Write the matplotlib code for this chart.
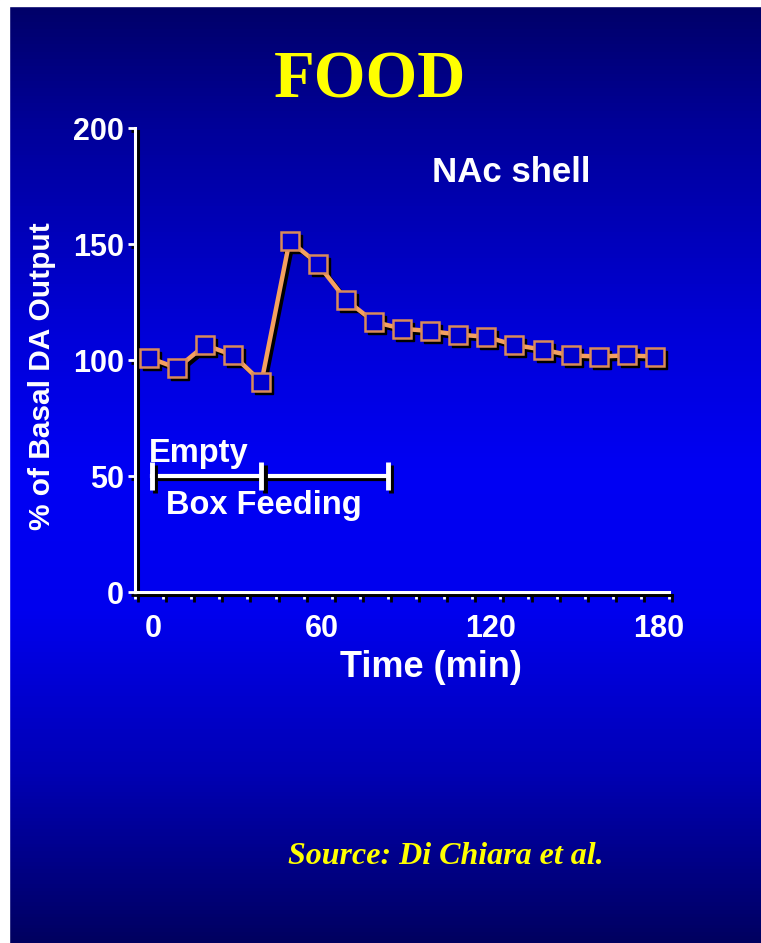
import matplotlib
matplotlib.use("Agg")
import matplotlib.pyplot as plt
import numpy as np
import matplotlib.patheffects as pe
from matplotlib.colors import LinearSegmentedColormap
from matplotlib.patches import Rectangle
from matplotlib import transforms
from matplotlib.ticker import FixedLocator

# ---------------- data ----------------
time_min = [0, 10, 20, 30, 40, 50, 60, 70, 80, 90, 100, 110, 120, 130, 140, 150, 160, 170, 180]
da_output = [101, 96.5, 106.5, 102, 90.5, 151.5, 141.5, 126, 116.5, 113.5, 112.5, 111, 110,
             106.5, 104.5, 102, 101.5, 102, 101.5]
x_tick_values = [0, 60, 120, 180]
x_tick_labels = ["0", "60", "120", "180"]
y_tick_values = [0, 50, 100, 150, 200]
phase_bounds = [1, 40, 85]          # empty box: 1-40 min, feeding: 40-85 min
phase_level = 50

plt.rcParams["font.family"] = ["Liberation Sans", "DejaVu Sans"]
plt.rcParams["font.weight"] = "bold"

fig = plt.figure(figsize=(7.61, 9.43), dpi=100)

# ---------------- background gradient ----------------
bg = fig.add_axes([0, 0, 1, 1], zorder=-10)
cmap = LinearSegmentedColormap.from_list(
    "bg",
    [(0.0, "#000066"), (0.13, "#000098"), (0.35, "#0000d8"), (0.5, "#0000f4"),
     (0.65, "#0000ee"), (0.82, "#0000b4"), (1.0, "#000060")])
grad = np.linspace(0, 1, 256).reshape(-1, 1)
bg.imshow(grad, aspect="auto", cmap=cmap, extent=[0, 1, 0, 1], origin="upper")
bg.add_patch(Rectangle((0, 0), 9 / 761, 1, color="white"))
bg.add_patch(Rectangle((0, 1 - 6 / 943), 1, 6 / 943, color="white"))
bg.set_xlim(0, 1)
bg.set_ylim(0, 1)
bg.axis("off")

# ---------------- main axes ----------------
ax = fig.add_axes([0.1774, 0.3722, 0.7017, 0.4920])
ax.patch.set_alpha(0)
ax.set_xlim(-5, 185)
ax.set_ylim(0, 200)

shadow_pe = [pe.SimpleLineShadow(offset=(2.2, -2.2), shadow_color="black", alpha=1.0), pe.Normal()]

# data line with drop shadow
shadow_tr = transforms.offset_copy(ax.transData, fig=fig, x=3, y=-3, units="dots")
ax.plot(time_min, da_output, color="black", lw=3.2, marker="s", ms=12.5,
        mfc="black", mec="black", transform=shadow_tr, zorder=3, clip_on=False)
ax.plot(time_min, da_output, color="#f4a060", lw=3.2, marker="s", ms=12.5,
        mfc="#0000d0", mec="#d98a5a", mew=1.8, zorder=4, clip_on=False)

# spines
for s in ["top", "right"]:
    ax.spines[s].set_visible(False)
for s in ["left", "bottom"]:
    ax.spines[s].set_color("white")
    ax.spines[s].set_linewidth(2.2)
    ax.spines[s].set_path_effects(shadow_pe)

# ticks
ax.set_yticks(y_tick_values)
ax.tick_params(axis="y", direction="out", length=5, width=2, color="white",
               labelsize=22, labelcolor="white", pad=3)
ax.set_xticks(x_tick_values)
ax.set_xticklabels(x_tick_labels)
ax.xaxis.set_minor_locator(FixedLocator(np.arange(-5, 186, 10)))
ax.tick_params(axis="x", which="major", length=0, pad=16, labelsize=22, labelcolor="white")
ax.tick_params(axis="x", which="minor", direction="out", length=5, width=2, color="white")
for t in ax.xaxis.get_minor_ticks():
    t.tick1line.set_path_effects(shadow_pe)
for t in ax.yaxis.get_major_ticks():
    t.tick1line.set_path_effects(shadow_pe)
# nudge x tick labels slightly right as in the reference
offset_lbl = transforms.ScaledTranslation(4 / 100, 0, fig.dpi_scale_trans)
for lbl in ax.get_xticklabels():
    lbl.set_transform(lbl.get_transform() + offset_lbl)

# axis labels
ax.set_ylabel("% of Basal DA Output", fontsize=21.5, color="white", fontweight="bold")
ax.yaxis.label.set_va("center")
ax.yaxis.set_label_coords(-0.175, 0.466)
ax.set_xlabel("Time (min)", fontsize=26, color="white", fontweight="bold")
ax.xaxis.label.set_va("center")
ax.xaxis.set_label_coords(0.555, -0.162)

# phase bar
ax.plot([phase_bounds[0], phase_bounds[-1]], [phase_level, phase_level], color="white",
        lw=3, path_effects=shadow_pe, zorder=5)
ax.vlines(phase_bounds, phase_level - 6, phase_level + 6, color="white", lw=3.5,
          path_effects=shadow_pe, zorder=5)
ax.text(0.0, 59.5, "Empty", color="white", fontsize=23.5, fontweight="bold", ha="left", va="center")
ax.text(6.0, 37.5, "Box Feeding", color="white", fontsize=23.5, fontweight="bold", ha="left", va="center")

ax.text(128.8, 181, "NAc shell", color="white", fontsize=25, fontweight="bold", ha="center", va="center")

# title and source
fig.text(370 / 761, 1 - 81 / 943, "FOOD", color="#ffff00", fontsize=48, fontweight="bold",
         family=["Liberation Serif", "DejaVu Serif"], ha="center", va="center")
fig.text(446 / 761, 1 - 857 / 943, "Source: Di Chiara et al.", color="#ffff00", fontsize=23,
         fontweight="bold", style="italic", family=["Liberation Serif", "DejaVu Serif"],
         ha="center", va="center")

fig.savefig("out.png", dpi=100)
